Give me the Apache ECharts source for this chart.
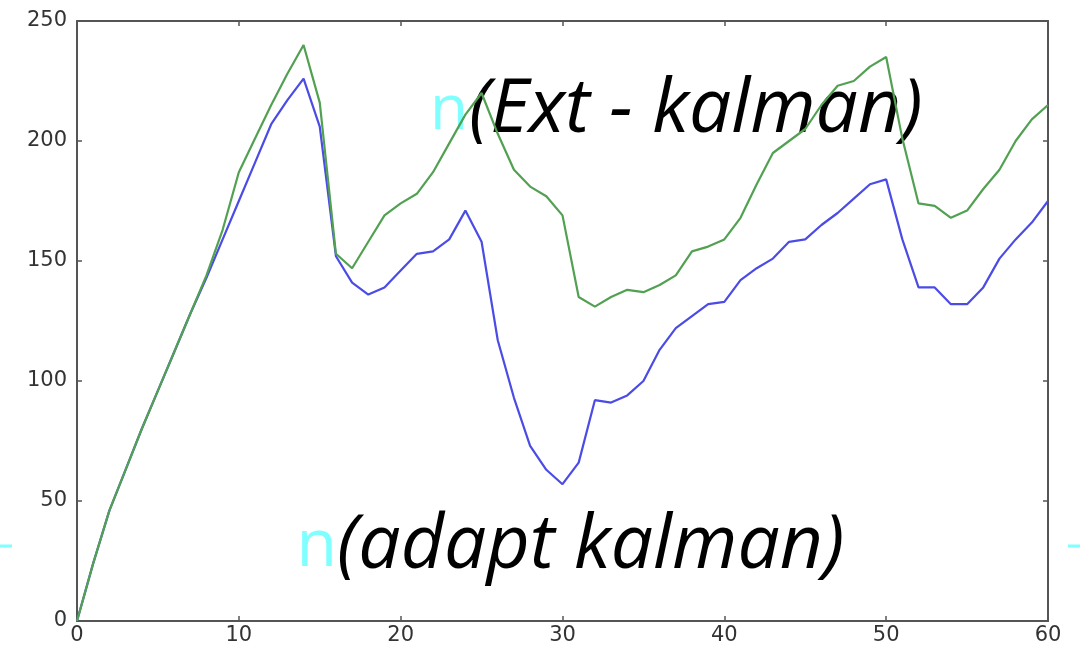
<!DOCTYPE html>
<html>
<head>
<meta charset="utf-8">
<script src="https://cdn.jsdelivr.net/npm/echarts@6/dist/echarts.min.js"></script>
<style>
  html, body { margin: 0; padding: 0; background: #fff; }
  #chart { width: 1080px; height: 648px; }
</style>
</head>
<body>
<div id="chart"></div>
<script>
const steps = [0, 1, 2, 3, 4, 5, 6, 7, 8, 9, 10, 11, 12, 13, 14, 15, 16, 17, 18, 19, 20,
  21, 22, 23, 24, 25, 26, 27, 28, 29, 30, 31, 32, 33, 34, 35, 36, 37, 38, 39, 40,
  41, 42, 43, 44, 45, 46, 47, 48, 49, 50, 51, 52, 53, 54, 55, 56, 57, 58, 59, 60]

// Ext - kalman (green)
const extKalman = [0, 24, 46, 63, 80, 96, 112, 128, 144, 163, 187, 201, 215, 228, 240, 216, 153, 147, 158, 169, 174,
  178, 187, 199, 211, 220, 203, 188, 181, 177, 169, 135, 131, 135, 138, 137, 140, 144, 154, 156, 159,
  168, 182, 195, 200, 205, 215, 223, 225, 231, 235, 201, 174, 173, 168, 171, 180, 188, 200, 209, 215]

// adapt kalman (blue)
const adaptKalman = [0, 24, 46, 63, 80, 96, 112, 128, 143, 159, 175, 191, 207, 217, 226, 206, 152, 141, 136, 139, 146,
  153, 154, 159, 171, 158, 117, 93, 73, 63, 57, 66, 92, 91, 94, 100, 113, 122, 127, 132, 133,
  142, 147, 151, 158, 159, 165, 170, 176, 182, 184, 159, 139, 139, 132, 132, 139, 151, 159, 166, 175]

const axisColor = '#555'
const labelStyle = { color: '#333', fontSize: 21, fontFamily: 'DejaVu Sans' }

function boxAxis (extra) {
  return Object.assign({
    type: 'value',
    axisLine: { show: true, onZero: false, lineStyle: { color: axisColor, width: 2 } },
    axisTick: { show: true, inside: true, length: 5, lineStyle: { color: axisColor, width: 1.5 } },
    splitLine: { show: false }
  }, extra)
}

const options = {
  animation: false,
  backgroundColor: '#fff',
  grid: { left: 77, right: 32, top: 21, bottom: 27 },
  xAxis: [
    boxAxis({ min: 0, max: 60, interval: 10, position: 'bottom', axisLabel: Object.assign({ margin: 4 }, labelStyle) }),
    boxAxis({ min: 0, max: 60, interval: 10, position: 'top', axisLabel: { show: false } })
  ],
  yAxis: [
    boxAxis({ min: 0, max: 250, interval: 50, position: 'left', axisLabel: Object.assign({ margin: 10 }, labelStyle) }),
    boxAxis({ min: 0, max: 250, interval: 50, position: 'right', axisLabel: { show: false } })
  ],
  series: [
    {
      name: 'adapt kalman',
      type: 'line',
      symbol: 'none',
      data: steps.map((s, i) => [s, adaptKalman[i]]),
      lineStyle: { color: '#4b4be6', width: 2.2 }
    },
    {
      name: 'Ext - kalman',
      type: 'line',
      symbol: 'none',
      data: steps.map((s, i) => [s, extKalman[i]]),
      lineStyle: { color: '#52a052', width: 2.2 }
    }
  ],
  graphic: [
    // small cyan marks at the slide edges
    { type: 'line', shape: { x1: 0, y1: 546, x2: 12, y2: 546 }, style: { stroke: '#80ffff', lineWidth: 3 } },
    { type: 'line', shape: { x1: 1068, y1: 546, x2: 1080, y2: 546 }, style: { stroke: '#80ffff', lineWidth: 3 } },
    // annotations
    { type: 'text', x: 468, y: 111, style: { text: 'n', font: '62px "Open Sans"', fill: '#80ffff', textAlign: 'right', textVerticalAlign: 'middle' } },
    { type: 'text', x: 469, y: 111, style: { text: '(Ext - kalman)', font: 'italic 75px "Open Sans"', fill: '#000', textAlign: 'left', textVerticalAlign: 'middle' } },
    { type: 'text', x: 337, y: 547, style: { text: 'n', font: '66px "Open Sans"', fill: '#80ffff', textAlign: 'right', textVerticalAlign: 'middle' } },
    { type: 'text', x: 337, y: 547, style: { text: '(adapt kalman)', font: 'italic 75px "Open Sans"', fill: '#000', textAlign: 'left', textVerticalAlign: 'middle' } }
  ]
}

const chart = echarts.init(document.getElementById('chart'))
chart.setOption(options, true)
</script>
</body>
</html>
